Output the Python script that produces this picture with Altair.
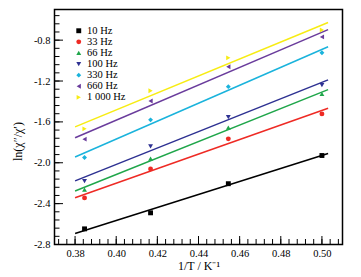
import altair as alt
import pandas as pd

# ---- data ----
freqs = ["10 Hz", "33 Hz", "66 Hz", "100 Hz", "330 Hz", "660 Hz", "1 000 Hz"]
colors = ["#000000", "#ee2a24", "#1fa64a", "#2e3192", "#1ab3dc", "#6a3c9c", "#f7ec13"]
shapes = ["square", "circle", "triangle-up", "triangle-down", "diamond",
          "triangle-left", "triangle-right"]
inv_T = [0.3846, 0.4167, 0.4545, 0.5]
ln_10 = [-2.647, -2.49, -2.205, -1.929]
ln_33 = [-2.344, -2.06, -1.766, -1.522]
ln_66 = [-2.263, -1.96, -1.655, -1.327]
ln_100 = [-2.18, -1.84, -1.554, -1.24]
ln_330 = [-1.948, -1.58, -1.255, -0.924]
ln_660 = [-1.769, -1.395, -1.06, -0.768]
ln_1000 = [-1.668, -1.295, -0.973, -0.70]
series_vals = [ln_10, ln_33, ln_66, ln_100, ln_330, ln_660, ln_1000]

x_labels = [0.38, 0.40, 0.42, 0.44, 0.46, 0.48, 0.50]
y_labels = [-2.8, -2.4, -2.0, -1.6, -1.2, -0.8]
x_minor = [round(0.372 + 0.004 * i, 3) for i in range(35)]
y_minor = [round(-2.8 + 0.08 * i, 2) for i in range(29)]

rows = []
for f, vals in zip(freqs, series_vals):
    for xv, yv in zip(inv_T, vals):
        rows.append({"series": f, "invT": xv, "lnchi": yv})
df = pd.DataFrame(rows)

W, H = 288, 235
FONT = "Liberation Serif"
X_TITLE = "1/T / K\u207b\u00b9"
Y_TITLE = "ln(\u03c7\u2033/\u03c7\u2032)"
xs = alt.Scale(domain=[0.37, 0.51], nice=False, zero=False)
ys = alt.Scale(domain=[-2.8, -0.5], nice=False, zero=False)
cs = alt.Scale(domain=freqs, range=colors)
ss = alt.Scale(domain=freqs, range=shapes)

x_axis = alt.Axis(values=x_labels, format=".2f", ticks=False, tickSize=0,
                  domain=False, grid=False, labelPadding=4,
                  titleY=21, titleBaseline="middle")
y_axis = alt.Axis(values=y_labels, format=".1f", ticks=False, tickSize=0,
                  domain=False, grid=False, labelPadding=4.5,
                  labelExpr="replace(datum.label, '\u2212', '-')",
                  titleX=-37.5, titleY=131.5, titleAngle=-90,
                  titleAlign="center", titleBaseline="middle")
legend = alt.Legend(title=None, orient="none", legendX=19, legendY=16,
                    symbolSize=24, padding=0, rowPadding=0.1, labelOffset=3,
                    labelFont=FONT, labelFontSize=10.5, symbolStrokeWidth=0,
                    symbolType="square")

lines = alt.Chart(df).transform_regression(
    "invT", "lnchi", groupby=["series"], extent=[0.38, 0.503], method="linear"
).mark_line(strokeWidth=1.5).encode(
    x=alt.X("invT:Q", scale=xs, title=X_TITLE, axis=x_axis),
    y=alt.Y("lnchi:Q", scale=ys, title=Y_TITLE, axis=y_axis),
    color=alt.Color("series:N", scale=cs, sort=freqs, legend=legend),
)

points = alt.Chart(df).mark_point(filled=True, size=24, opacity=1).encode(
    x=alt.X("invT:Q", scale=xs, title=X_TITLE, axis=x_axis),
    y=alt.Y("lnchi:Q", scale=ys, title=Y_TITLE, axis=y_axis),
    color=alt.Color("series:N", scale=cs, sort=freqs, legend=legend),
    shape=alt.Shape("series:N", scale=ss, sort=freqs, legend=legend),
)

def xticks(vals, length):
    return alt.Chart(pd.DataFrame({"invT": vals})).mark_rule(
        color="black", strokeWidth=1).encode(
        x=alt.X("invT:Q", scale=xs, title=X_TITLE, axis=x_axis),
        y=alt.value(H), y2=alt.value(H - length))

def yticks(vals, length):
    return alt.Chart(pd.DataFrame({"lnchi": vals})).mark_rule(
        color="black", strokeWidth=1).encode(
        y=alt.Y("lnchi:Q", scale=ys, title=Y_TITLE, axis=y_axis),
        x=alt.value(0), x2=alt.value(length))

chart = alt.layer(
    lines, points,
    xticks(x_labels, 8.5), xticks(x_minor, 5.5),
    yticks(y_labels, 8.5), yticks(y_minor, 5),
).properties(
    width=W, height=H,
    autosize=alt.AutoSizeParams(type="none"),
    padding={"left": 46.5, "top": 1.5, "right": 10, "bottom": 31},
).configure_view(
    stroke="black", strokeWidth=1.5
).configure_axis(
    labelFont=FONT, labelFontSize=10.5, labelColor="black",
    titleFont=FONT, titleFontSize=12, titleFontWeight="normal", titleColor="black",
).configure_legend(
    labelColor="black"
)

chart.save("out.html", embed_options={"renderer": "svg", "actions": False})
